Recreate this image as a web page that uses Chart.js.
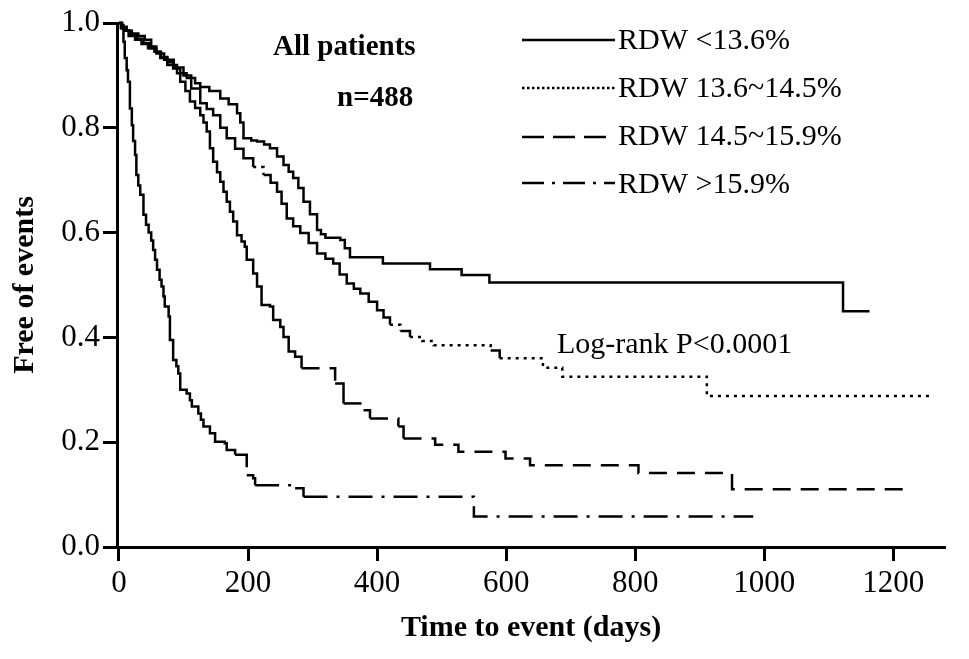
<!DOCTYPE html>
<html>
<head>
<meta charset="utf-8">
<title>Free of events by RDW</title>
<script src="https://cdn.jsdelivr.net/npm/chart.js@4.4.1/dist/chart.umd.min.js"></script>
<style>
  html, body { margin: 0; padding: 0; background: #fff; }
  #wrap { width: 969px; height: 659px; }
</style>
</head>
<body>
<div id="wrap"><canvas id="kmChart" width="969" height="659"></canvas></div>
<script>
// series names and axis ticks
const seriesNames = ['RDW <13.6%', 'RDW 13.6~14.5%', 'RDW 14.5~15.9%', 'RDW >15.9%'];
const xTicks = [0, 200, 400, 600, 800, 1000, 1200];
const yTicks = [0, 0.2, 0.4, 0.6, 0.8, 1.0];

// Kaplan-Meier steps: time (days) and fraction free of events after the step
const lowTime = [0, 5, 12, 20, 30, 40, 50, 58, 64, 75, 90, 105, 118, 126, 140, 157, 170, 183, 188, 193, 205, 214, 225, 234, 245, 255, 263, 270, 278, 286, 296, 307, 313, 320, 343, 350, 358, 409, 482, 531, 574, 1122, 1163];
const lowSurv = [1.0, 0.993, 0.985, 0.98, 0.975, 0.968, 0.955, 0.945, 0.933, 0.92, 0.904, 0.895, 0.885, 0.878, 0.87, 0.856, 0.845, 0.828, 0.81, 0.78, 0.776, 0.774, 0.768, 0.761, 0.745, 0.729, 0.716, 0.704, 0.685, 0.659, 0.635, 0.605, 0.597, 0.59, 0.586, 0.57, 0.553, 0.541, 0.53, 0.519, 0.505, 0.45, 0.45];

const midLowTime = [0, 4, 10, 18, 28, 38, 48, 58, 70, 85, 100, 112, 126, 136, 146, 157, 167, 180, 193, 208, 224, 235, 245, 252, 260, 270, 281, 294, 307, 320, 332, 342, 353, 364, 374, 387, 400, 410, 420, 436, 451, 470, 488, 576, 590, 657, 687, 911, 1260];
const midLowSurv = [1.0, 0.99, 0.985, 0.978, 0.97, 0.962, 0.952, 0.942, 0.93, 0.915, 0.9, 0.875, 0.847, 0.836, 0.824, 0.8, 0.78, 0.76, 0.742, 0.725, 0.71, 0.695, 0.678, 0.655, 0.627, 0.612, 0.599, 0.58, 0.56, 0.55, 0.541, 0.52, 0.503, 0.493, 0.484, 0.468, 0.452, 0.438, 0.424, 0.412, 0.401, 0.393, 0.385, 0.375, 0.36, 0.342, 0.325, 0.288, 0.288];

const midHighTime = [0, 3, 8, 15, 25, 35, 45, 55, 65, 75, 84, 95, 103, 110, 118, 126, 131, 136, 141, 146, 152, 157, 162, 167, 172, 177, 183, 190, 195, 198, 208, 214, 221, 234, 239, 250, 255, 263, 273, 283, 335, 348, 379, 389, 433, 441, 490, 526, 599, 637, 805, 950, 1221];
const midHighSurv = [1.0, 0.99, 0.985, 0.975, 0.968, 0.96, 0.952, 0.945, 0.935, 0.925, 0.913, 0.888, 0.87, 0.85, 0.838, 0.824, 0.81, 0.793, 0.761, 0.735, 0.715, 0.697, 0.678, 0.659, 0.64, 0.621, 0.595, 0.583, 0.573, 0.548, 0.522, 0.497, 0.462, 0.459, 0.433, 0.42, 0.401, 0.373, 0.363, 0.341, 0.312, 0.274, 0.261, 0.245, 0.23, 0.207, 0.195, 0.182, 0.169, 0.156, 0.141, 0.11, 0.11];

const highTime = [0, 4, 7, 9, 12, 14, 17, 20, 22, 25, 27, 30, 33, 38, 42, 46, 50, 53, 56, 59, 63, 66, 69, 71, 77, 79, 84, 89, 92, 95, 105, 110, 113, 123, 127, 131, 141, 149, 164, 167, 180, 198, 208, 211, 273, 286, 550, 983];
const highSurv = [1.0, 0.996, 0.964, 0.933, 0.91, 0.888, 0.837, 0.805, 0.775, 0.748, 0.71, 0.69, 0.672, 0.634, 0.615, 0.6, 0.585, 0.567, 0.548, 0.529, 0.51, 0.497, 0.478, 0.459, 0.44, 0.395, 0.357, 0.345, 0.331, 0.3, 0.293, 0.28, 0.268, 0.255, 0.243, 0.23, 0.217, 0.201, 0.198, 0.185, 0.176, 0.137, 0.131, 0.118, 0.112, 0.096, 0.058, 0.058];

const allTimes = [lowTime, midLowTime, midHighTime, highTime];
const allSurv = [lowSurv, midLowSurv, midHighSurv, highSurv];
const plotDashes = [[], [3, 5], [18, 10], [24, 9, 3, 9]];
const legendDashes = [[], [2.5, 2.5], [22, 9], [22, 8, 3, 8]];

const serif = "'Liberation Serif', 'Times New Roman', serif";
Chart.defaults.font.family = serif;
Chart.defaults.color = '#000';

// text notes and the legend are drawn straight onto the canvas
const notesPlugin = {
  id: 'notes',
  afterDraw(chart) {
    const ctx = chart.ctx;
    ctx.save();
    ctx.fillStyle = '#000';
    ctx.textBaseline = 'alphabetic';
    ctx.font = 'bold 29px ' + serif;
    ctx.fillText('All patients', 273, 55);
    ctx.fillText('n=488', 337, 106);
    ctx.font = '30px ' + serif;
    ctx.fillText('Log-rank P<0.0001', 557, 353);

    const rowLine = [40, 88, 137, 183];
    const rowText = [49, 97, 145, 193];
    seriesNames.forEach((name, i) => {
      ctx.beginPath();
      ctx.setLineDash(legendDashes[i]);
      ctx.lineWidth = 2.5;
      ctx.strokeStyle = '#000';
      ctx.moveTo(522, rowLine[i]);
      ctx.lineTo(615, rowLine[i]);
      ctx.stroke();
      ctx.setLineDash([]);
      ctx.fillText(name, 618, rowText[i]);
    });
    ctx.restore();
  }
};

const kmCtx = document.getElementById('kmChart').getContext('2d');
const kmChart = new Chart(kmCtx, {
  type: 'line',
  data: {
    datasets: seriesNames.map((name, i) => ({
      label: name,
      data: allTimes[i].map((t, j) => ({ x: t, y: allSurv[i][j] })),
      stepped: true,
      borderColor: '#000',
      borderWidth: 2.5,
      pointRadius: 0,
      fill: false,
      clip: 4,
      // short steps look solid, long flat stretches show the dash pattern
      segment: {
        borderDash: ctx => (ctx.p1.x - ctx.p0.x > 10 ? plotDashes[i] : [])
      }
    }))
  },
  options: {
    responsive: false,
    animation: false,
    layout: { padding: { top: 23, right: 24, left: 0, bottom: 0 } },
    plugins: {
      legend: { display: false },
      tooltip: { enabled: false }
    },
    scales: {
      x: {
        type: 'linear',
        min: -3,
        max: 1280,
        afterBuildTicks: scale => { scale.ticks = xTicks.map(v => ({ value: v })); },
        afterFit: scale => { scale.height = 112; },
        grid: { drawOnChartArea: false, drawTicks: true, tickLength: 14, tickWidth: 3, tickColor: '#000' },
        border: { display: true, color: '#000', width: 3 },
        ticks: { padding: 4, font: { size: 31 }, color: '#000', maxRotation: 0, callback: v => String(v) },
        title: {
          display: true,
          text: 'Time to event (days)',
          font: { size: 30, weight: 'bold' },
          color: '#000',
          padding: { top: 0, bottom: 13 }
        }
      },
      y: {
        min: 0,
        max: 1.0,
        afterBuildTicks: scale => { scale.ticks = yTicks.map(v => ({ value: v })); },
        afterFit: scale => { scale.width = 117; },
        grid: { drawOnChartArea: false, drawTicks: true, tickLength: 14, tickWidth: 3, tickColor: '#000' },
        border: { display: true, color: '#000', width: 3 },
        ticks: { padding: 3, font: { size: 31 }, color: '#000', callback: v => v.toFixed(1) },
        title: {
          display: true,
          text: 'Free of events',
          font: { size: 30, weight: 'bold' },
          color: '#000',
          padding: { top: 7, bottom: 0 }
        }
      }
    }
  },
  plugins: [notesPlugin]
});
</script>
</body>
</html>
